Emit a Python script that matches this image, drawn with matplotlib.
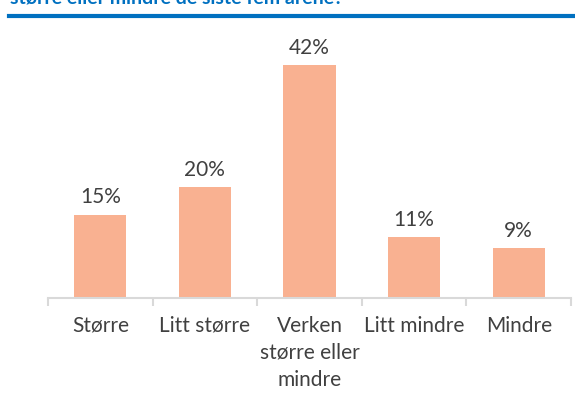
import matplotlib
matplotlib.use("Agg")
import matplotlib.pyplot as plt
from matplotlib.lines import Line2D

categories = ["Større", "Litt større", "Verken\nstørre eller\nmindre", "Litt mindre", "Mindre"]
values = [15, 20, 42, 11, 9]
value_labels = ["15%", "20%", "42%", "11%", "9%"]
title = "større eller mindre de siste fem årene?"

W, H = 575, 406
fig = plt.figure(figsize=(W/100, H/100), dpi=100)
plt.rcParams['font.family'] = ['Lato', 'DejaVu Sans']

ax_left = 48 / W
ax_right = 571 / W
ax_bottom = 1 - 299 / H
top_px = 20
ax = fig.add_axes([ax_left, ax_bottom, ax_right - ax_left, (299 - top_px) / H])
ymax = 42 * (299 - top_px) / (299 - 66)
ax.set_ylim(0, ymax)
ax.set_xlim(-0.5, len(categories) - 0.5)

color_bar = "#F9B191"
text_col = "#404040"
x = range(len(categories))
ax.bar(x, values, width=0.5, color=color_bar, zorder=2)
for xi, v, lab in zip(x, values, value_labels):
    ax.text(xi, v + ymax * 0.03, lab, ha="center", va="bottom", fontsize=15, color=text_col)

for s in ["top", "right", "left"]:
    ax.spines[s].set_visible(False)
ax.spines["bottom"].set_color("#D9D9D9")
ax.spines["bottom"].set_linewidth(1.5)
ax.set_yticks([])
ax.set_xticks([i - 0.5 for i in range(len(categories) + 1)], minor=False)
ax.set_xticklabels([])
ax.tick_params(axis="x", length=6, color="#D9D9D9", width=1.5, direction="out")
for xi, c in zip(x, categories):
    ax.text(xi, -ymax * 0.06, c, ha="center", va="top", fontsize=15, color=text_col,
            linespacing=1.45, transform=ax.transData, clip_on=False)

fig.add_artist(Line2D([9 / W, 1], [1 - 17 / H, 1 - 17 / H], color="#0070C0", lw=3, transform=fig.transFigure))
fig.text(10 / W, 1 - 4 / H, title, ha="left", va="baseline", fontsize=14, fontweight="bold", color="#0070C0")

fig.savefig("out.png", dpi=100)
